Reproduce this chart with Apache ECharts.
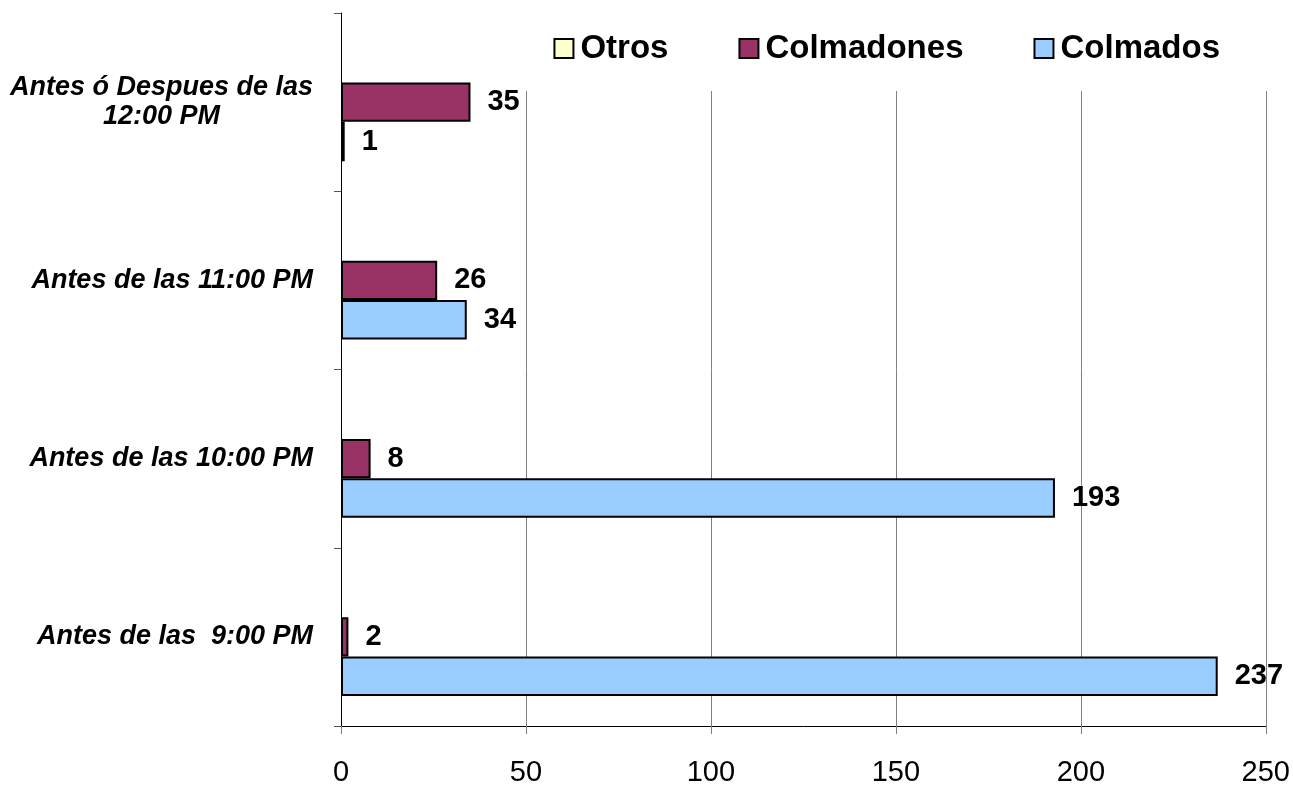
<!DOCTYPE html>
<html>
<head>
<meta charset="utf-8">
<script src="https://cdn.jsdelivr.net/npm/echarts@6/dist/echarts.min.js"></script>
<style>
html,body{margin:0;padding:0;background:#fff;}
#chart{width:1293px;height:787px;}
</style>
</head>
<body>
<div id="chart"></div>
<script>
const categories = ['Antes de las  9:00 PM', 'Antes de las 10:00 PM', 'Antes de las 11:00 PM', 'Antes ó Despues de las\n12:00 PM'];
const colmados = [237, 193, 34, 1];
const colmadones = [2, 8, 26, 35];
const otros = [null, null, null, null];
const xTicks = [0, 50, 100, 150, 200, 250];

const FONT = "Arial, 'Liberation Sans', sans-serif";
const chart = echarts.init(document.getElementById('chart'), null, {renderer: 'canvas'});

const labelStyle = {
  show: true, position: 'right', distance: 17,
  fontFamily: FONT, fontSize: 29, fontWeight: 'bold', color: '#000',
  padding: [4, 0, 0, 0]
};

chart.setOption({
  animation: false,
  backgroundColor: '#fff',
  grid: {left: 341, right: 26, top: 13, bottom: 59, containLabel: false},
  legend: {
    data: ['Otros', 'Colmadones', 'Colmados'],
    top: 12, right: 23,
    padding: [20, 50, 26, 46],
    backgroundColor: '#fff',
    itemWidth: 19, itemHeight: 19, itemGap: 70,
    icon: 'rect',
    textStyle: {fontFamily: FONT, fontSize: 33, fontWeight: 'bold', color: '#000', padding: [0, 0, 0, 2]},
    itemStyle: {borderColor: '#000', borderWidth: 2}
  },
  xAxis: {
    type: 'value', min: xTicks[0], max: xTicks[xTicks.length - 1], interval: 50,
    axisLine: {show: true, lineStyle: {color: '#000', width: 1}},
    axisTick: {show: true, length: 8, lineStyle: {color: '#808080'}},
    splitLine: {show: true, lineStyle: {color: '#808080', width: 1}},
    axisLabel: {fontFamily: FONT, fontSize: 29, color: '#000', margin: 32}
  },
  yAxis: {
    type: 'category', data: categories,
    axisLine: {show: true, lineStyle: {color: '#000', width: 1}},
    axisTick: {show: true, length: 7, lineStyle: {color: '#555'}},
    axisLabel: {
      margin: 28, fontFamily: FONT, fontSize: 27, fontWeight: 'bold', fontStyle: 'italic', color: '#000',
      formatter: function (v) {
        const parts = v.split('\n');
        if (parts.length > 1) return '{a|' + parts[0] + '}\n{c|' + parts[1] + '}';
        return '{a|' + v + '}';
      },
      rich: {
        a: {fontFamily: FONT, fontSize: 27, fontWeight: 'bold', fontStyle: 'italic', color: '#000', lineHeight: 29},
        c: {fontFamily: FONT, fontSize: 27, fontWeight: 'bold', fontStyle: 'italic', color: '#000', lineHeight: 29, align: 'center'}
      }
    }
  },
  series: [
    {name: 'Otros', type: 'bar', z: 6, data: otros, barGap: '0%', barCategoryGap: '33.6%',
     itemStyle: {color: '#FFFFCC', borderColor: '#000', borderWidth: 2}, label: labelStyle},
    {name: 'Colmadones', type: 'bar', z: 6, data: colmadones, barGap: '0%', barCategoryGap: '33.6%',
     itemStyle: {color: '#993366', borderColor: '#000', borderWidth: 2}, label: labelStyle},
    {name: 'Colmados', type: 'bar', z: 6, data: colmados, barGap: '0%', barCategoryGap: '33.6%',
     itemStyle: {color: '#99CCFF', borderColor: '#000', borderWidth: 2}, label: labelStyle}
  ]
});
</script>
</body>
</html>
